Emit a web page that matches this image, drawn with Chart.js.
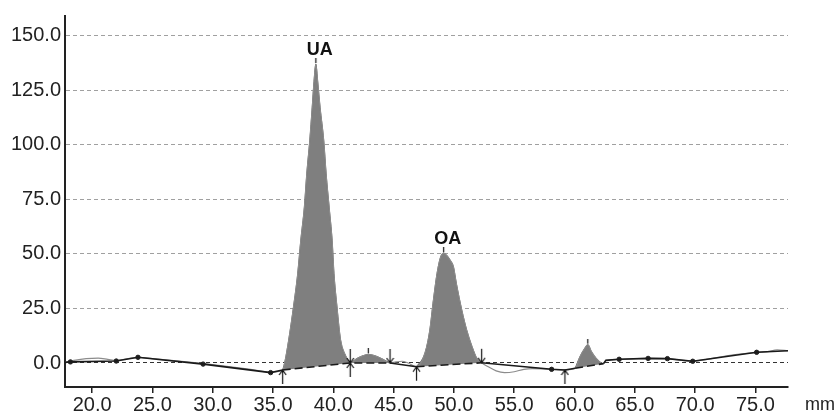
<!DOCTYPE html>
<html>
<head>
<meta charset="utf-8">
<script src="https://cdn.jsdelivr.net/npm/chart.js@4.4.1/dist/chart.umd.min.js"></script>
<style>
html, body { margin: 0; padding: 0; background: #fff; }
</style>
</head>
<body>
<canvas id="grafico" width="836" height="414"></canvas>
<script>
// chromatogram trace (mm, signal)
const sigX = [17.75, 18.5, 19.5, 20.5, 21.3, 22.0, 23.0, 23.8, 25.0, 27.0, 29.2, 31.0, 33.0, 34.8, 35.8,
  36.0, 36.3, 36.7, 37.05, 37.3, 37.6, 37.8, 38.05, 38.25, 38.4, 38.55, 38.7, 38.9, 39.2, 39.4, 39.65, 39.9, 40.05, 40.3, 40.6, 41.0, 41.4,
  42.0, 42.5, 42.9, 43.4, 44.0, 44.7, 45.2, 45.7, 46.2, 46.9,
  47.6, 48.0, 48.3, 48.6, 48.9, 49.15, 49.7, 49.96, 50.2, 50.65, 51.06, 51.5, 51.9, 52.3,
  52.8, 53.5, 54.2, 55.0, 55.8, 56.5, 58.1, 59.2, 60.05, 60.45, 60.85, 61.1, 61.4, 61.8, 62.25, 62.4,
  62.6, 63.7, 66.1, 67.7, 68.6, 69.8, 71.0, 72.5, 73.5, 75.1, 76.0, 76.8, 77.7];
const sigY = [0.3, 1.2, 2.0, 2.2, 1.7, 1.2, 2.0, 2.6, 2.0, 1.0, -0.3, -1.4, -2.8, -4.2, -3.2,
  1.0, 10.5, 25.7, 41, 56, 71.4, 86.7, 102, 117, 129, 137, 129, 117, 102, 86.7, 71.4, 56, 41, 25.7, 10.5, 3.5, 0.0,
  2.2, 3.4, 3.9, 3.4, 2.0, 0.0, 0.5, 0.8, 0.0, -1.7,
  4.6, 15, 28.8, 41, 48.6, 50.2, 47, 44, 36.4, 24.2, 15, 7.5, 2.1, 0.1,
  -1.6, -3.6, -4.4, -4.0, -2.9, -2.6, -2.9, -3.2, -2.4, 2.9, 6.7, 8.4, 5.2, 2.1, -0.1, -0.3,
  1.2, 1.7, 2.1, 2.0, 1.4, 0.8, 1.7, 3.2, 4.0, 4.9, 5.2, 6.0, 5.6];

// fitted baseline
const baseX = [17.75, 18.2, 22.0, 23.8, 29.2, 34.8, 35.8, 41.4, 44.7, 46.9, 52.3, 58.1, 59.2, 60.05, 62.4, 62.6, 63.7, 66.1, 67.7, 69.8, 75.1, 77.7];
const baseY = [0.3, 0.5, 0.9, 2.6, -0.5, -4.4, -3.2, 0.0, 0.0, -1.7, 0.1, -2.9, -3.2, -2.4, -0.3, 1.2, 1.7, 2.1, 2.0, 0.8, 4.9, 5.6];
const knotX = [18.2, 22.0, 23.8, 29.2, 34.8, 58.1, 63.7, 66.1, 67.7, 69.8, 75.1];

// integration marks
const upMarkX = [35.8, 41.4, 46.9, 59.2];
const downMarkX = [41.4, 44.7, 52.3];

// peaks
const peakStart = [35.8, 41.4, 46.9, 60.05];
const peakEnd = [41.4, 44.7, 52.3, 62.4];
const peakNames = ['UA', '', 'OA', ''];

const xTicks = [20, 25, 30, 35, 40, 45, 50, 55, 60, 65, 70, 75];
const yTicks = [0, 25, 50, 75, 100, 125, 150];

const baseAt = x => baseY[baseX.indexOf(x)];
const signal = sigX.map((x, i) => ({x: x, y: sigY[i]}));
const baseline = baseX.map((x, i) => ({x: x, y: baseY[i]}));
const knots = knotX.map(x => ({x: x, y: baseAt(x)}));
const upMarks = upMarkX.map(x => ({x: x, y: baseAt(x)}));
const downMarks = downMarkX.map(x => ({x: x, y: baseAt(x)}));
const peaks = peakStart.map((s, i) => signal.filter(p => p.x >= s && p.x <= peakEnd[i]));
const apexes = peaks.map(pk => pk.reduce((a, b) => (b.y > a.y ? b : a)));

function markImg(dir, arrow) {
  const c = document.createElement('canvas');
  c.width = 9; c.height = arrow ? 30 : 12;
  const g = c.getContext('2d');
  const mid = c.height / 2;
  g.strokeStyle = '#111';
  g.lineWidth = 1.2;
  g.beginPath();
  if (arrow) {
    const end = dir === 'up' ? c.height - 1 : 1;
    const s = dir === 'up' ? 1 : -1;
    g.moveTo(4.5, mid); g.lineTo(4.5, end);
    g.moveTo(1, mid + 5 * s); g.lineTo(4.5, mid); g.lineTo(8, mid + 5 * s);
  } else {
    g.moveTo(4.5, mid - 1); g.lineTo(4.5, 0);
  }
  g.stroke();
  return c;
}

const inChord = (a, b) => peakStart.some((s, i) => s <= a && peakEnd[i] >= b);

const labelPlugin = {
  id: 'peakLabels',
  afterDatasetsDraw(chart) {
    const {ctx, scales: {x, y}} = chart;
    ctx.save();
    ctx.fillStyle = '#111';
    ctx.font = 'bold 18px "Liberation Sans", Arial, sans-serif';
    ctx.textAlign = 'center';
    ctx.textBaseline = 'alphabetic';
    apexes.forEach((a, i) => {
      if (!peakNames[i]) return;
      ctx.fillText(peakNames[i], x.getPixelForValue(a.x) + 4, y.getPixelForValue(a.y) - 9);
    });
    ctx.restore();
  },
  afterDraw(chart) {
    const {ctx, chartArea, scales: {x}} = chart;
    ctx.save();
    ctx.fillStyle = '#222';
    ctx.font = '18px "Liberation Sans", Arial, sans-serif';
    ctx.textAlign = 'center';
    ctx.textBaseline = 'middle';
    ctx.fillText('mm', chartArea.right + 32, x.top + 18);
    ctx.restore();
  }
};

const tickFont = {family: '"Liberation Sans", Arial, sans-serif', size: 20};

const datasets = [
  {data: baseline, borderColor: '#1a1a1a', borderWidth: 1.6, pointRadius: 0,
    segment: {borderDash: c => inChord(c.p0.parsed.x, c.p1.parsed.x) ? [8, 4] : undefined}},
  {data: knots, showLine: false, pointRadius: 2.2, backgroundColor: '#222', borderColor: '#222'},
  {data: upMarks, showLine: false, pointRadius: 5, pointStyle: markImg('up', true)},
  {data: downMarks, showLine: false, pointRadius: 5, pointStyle: markImg('down', true)},
  {data: apexes, showLine: false, pointRadius: 5, pointStyle: markImg('up', false)},
  {data: signal, borderColor: '#8c8c8c', borderWidth: 1.2, pointRadius: 0, cubicInterpolationMode: 'monotone'}
];
peaks.forEach(pk => datasets.push({
  data: pk, fill: 'shape', backgroundColor: '#7f7f7f', borderColor: '#5e5e5e', borderWidth: 1,
  pointRadius: 0, cubicInterpolationMode: 'monotone'
}));

const ctx = document.getElementById('grafico').getContext('2d');
new Chart(ctx, {
  type: 'line',
  data: {datasets: datasets},
  plugins: [labelPlugin],
  options: {
    responsive: false,
    animation: false,
    devicePixelRatio: 1,
    layout: {padding: {top: 15, right: 48, left: 0, bottom: 0}},
    plugins: {legend: {display: false}, tooltip: {enabled: false}},
    scales: {
      x: {
        type: 'linear', min: 17.75, max: 77.7,
        afterBuildTicks: s => { s.ticks = xTicks.map(v => ({value: v})); },
        afterFit: s => { s.height = 27; },
        grid: {drawOnChartArea: false, drawTicks: true, tickLength: 6, color: '#222', lineWidth: 1.5},
        border: {display: true, color: '#222', width: 2},
        ticks: {padding: 0, color: '#222', font: tickFont, maxRotation: 0, autoSkip: false,
          callback: v => v.toFixed(1)}
      },
      y: {
        min: -11, max: 159,
        afterBuildTicks: s => { s.ticks = yTicks.map(v => ({value: v})); },
        afterFit: s => { s.width = 65; },
        grid: {drawTicks: false, lineWidth: 1,
          color: c => (c.tick && c.tick.value === 0 ? '#333' : '#a0a0a0')},
        border: {display: true, color: '#222', width: 2, dash: [4, 3]},
        ticks: {padding: 4, color: '#222', font: tickFont, callback: v => v.toFixed(1)}
      }
    }
  }
});
</script>
</body>
</html>
